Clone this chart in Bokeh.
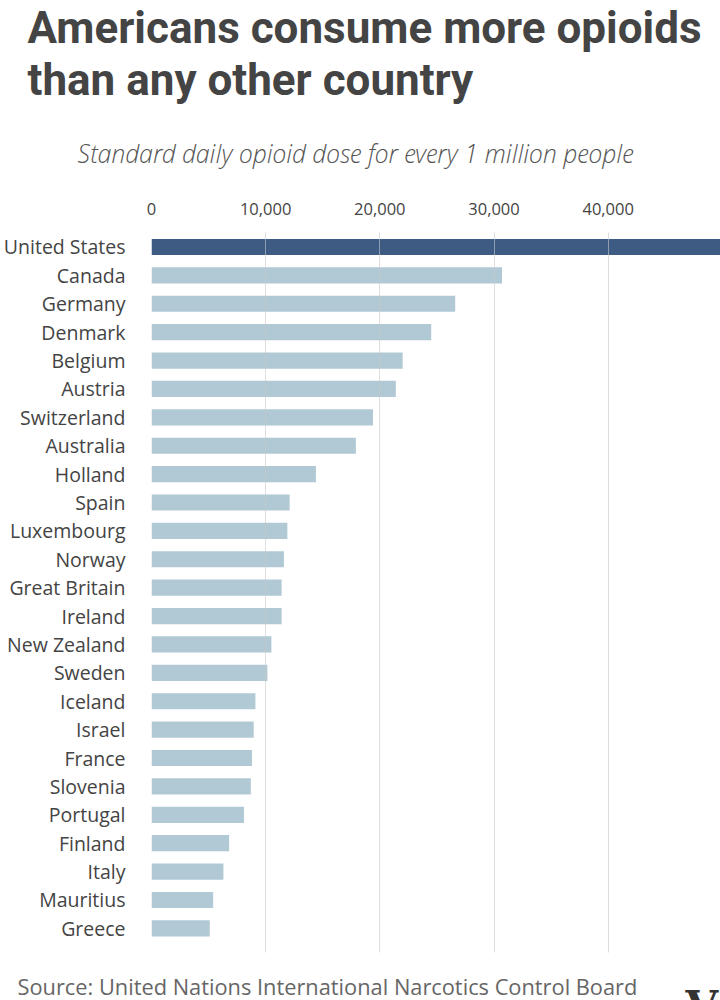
from bokeh.plotting import figure
from bokeh.layouts import column
from bokeh.models import (Range1d, FixedTicker, NumeralTickFormatter, Label,
                          ColumnDataSource)
from bokeh.embed import file_html
from bokeh.resources import INLINE

# ---------------- data ----------------
countries = ["United States", "Canada", "Germany", "Denmark", "Belgium", "Austria",
             "Switzerland", "Australia", "Holland", "Spain", "Luxembourg", "Norway",
             "Great Britain", "Ireland", "New Zealand", "Sweden", "Iceland", "Israel",
             "France", "Slovenia", "Portugal", "Finland", "Italy", "Mauritius", "Greece"]
doses = [50000, 30700, 26600, 24500, 22000, 21400,
         19400, 17900, 14400, 12100, 11900, 11600,
         11400, 11400, 10500, 10150, 9100, 8950,
         8800, 8700, 8100, 6800, 6300, 5400, 5100]
highlight = ["United States"]
ticks = [0, 10000, 20000, 30000, 40000]

title_lines = ["Americans consume more opioids", "than any other country"]
subtitle = "Standard daily opioid dose for every 1 million people"
source_note = "Source: United Nations International Narcotics Control Board"

# ---------------- style ----------------
DARK = "#3d5b83"
LIGHT = "#b1c8d5"
TEXT = "#444444"
TITLE = "#444444"
W = 720
H_HEAD, H_MAIN, H_FOOT = 190, 768, 42


def blank(height):
    f = figure(width=W, height=height, output_backend="svg", toolbar_location=None,
               x_range=Range1d(0, W), y_range=Range1d(height, 0),
               x_axis_location=None, y_axis_location=None,
               min_border=0, frame_align=False)
    f.outline_line_color = None
    f.grid.visible = False
    return f


# ---------------- header ----------------
head = blank(H_HEAD)
head.add_layout(Label(x=27, y=27, text=title_lines[0], text_font="Roboto",
                      text_font_style="bold", text_font_size="44px",
                      text_color=TITLE, text_baseline="alphabetic"))
head.add_layout(Label(x=27, y=79, text=title_lines[1], text_font="Roboto",
                      text_font_style="bold", text_font_size="44px",
                      text_color=TITLE, text_baseline="alphabetic"))
head.add_layout(Label(x=355, y=152, text=subtitle,
                      text_font="'Open Sans Light', 'Open Sans'",
                      text_font_style="italic", text_font_size="25px",
                      text_color="#555555", text_baseline="alphabetic",
                      text_align="center"))

# ---------------- main chart ----------------
idx = list(range(len(countries)))
colors = [DARK if c in highlight else LIGHT for c in countries]
src = ColumnDataSource(dict(idx=idx, dose=doses, color=colors, country=countries))

p = figure(width=W, height=H_MAIN, output_backend="svg", toolbar_location=None,
           x_range=Range1d(0, 49837), y_range=Range1d(len(countries) - 0.15, -0.51),
           x_axis_location="above", frame_align=False,
           min_border_left=147, min_border_right=0,
           min_border_top=42, min_border_bottom=6)
p.outline_line_color = None

p.hbar(y="idx", left=0, right="dose", height=0.57, fill_color="color",
       line_color=None, source=src)

ya = p.yaxis[0]
ya.ticker = FixedTicker(ticks=idx)
ya.major_label_overrides = {i: c for i, c in zip(idx, countries)}
ya.major_tick_line_color = None
ya.minor_tick_line_color = None
ya.axis_line_color = None
ya.major_label_standoff = 20
ya.major_label_text_font = "Open Sans"
ya.major_label_text_font_size = "19.5px"
ya.major_label_text_color = TEXT

xa = p.xaxis[0]
xa.ticker = FixedTicker(ticks=ticks)
xa.formatter = NumeralTickFormatter(format="0,0")
xa.major_tick_line_color = None
xa.minor_tick_line_color = None
xa.axis_line_color = None
xa.major_label_standoff = 12
xa.major_label_text_font = "Open Sans"
xa.major_label_text_font_size = "16.5px"
xa.major_label_text_color = TEXT

p.ygrid.grid_line_color = None
p.xgrid.ticker = FixedTicker(ticks=ticks)
p.xgrid.grid_line_color = "#c8c8c8"
p.xgrid.grid_line_alpha = 0.6
p.xgrid.level = "overlay"

# ---------------- footer ----------------
foot = blank(H_FOOT)
foot.add_layout(Label(x=17, y=28, text=source_note, text_font="Open Sans",
                      text_font_size="21.8px", text_color="#666666",
                      text_baseline="alphabetic"))
foot.add_layout(Label(x=685, y=23, text="V", text_font="DejaVu Serif",
                      text_font_style="bold", text_font_size="42px",
                      text_color="#333333", text_baseline="top"))

layout = column(head, p, foot, spacing=0)
open("out.html", "w").write(file_html(layout, INLINE))
